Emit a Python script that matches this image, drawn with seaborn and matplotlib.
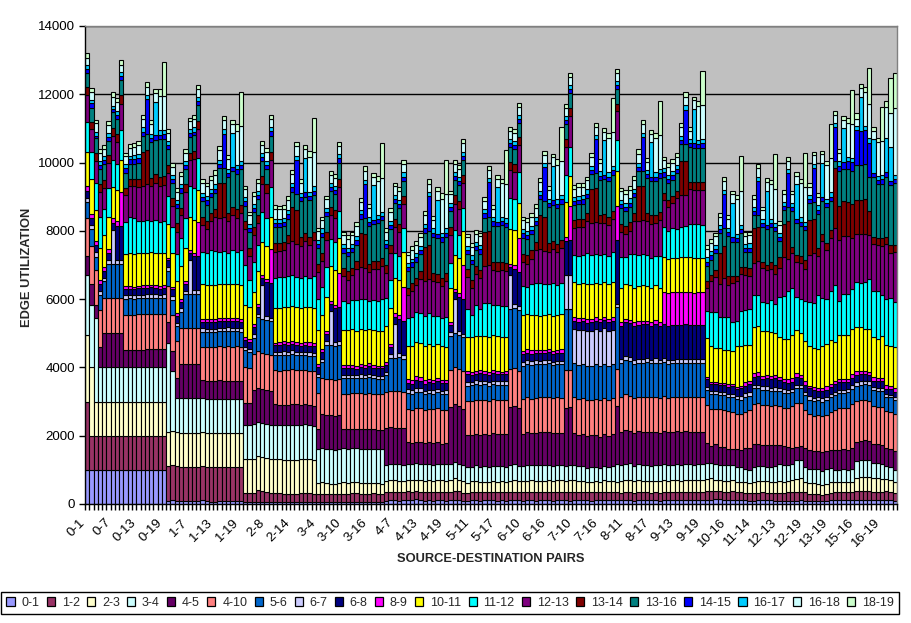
## stacked edge utilization per source-destination pair
import numpy as np
import seaborn as sns
import matplotlib.pyplot as plt
from matplotlib.patches import Patch
from matplotlib.transforms import ScaledTranslation

nodes = 20
pairs = [str(a) + '-' + str(b) for a in range(nodes) for b in range(a + 1, nodes)]

edges = ['0-1', '1-2', '2-3', '3-4', '4-5', '4-10', '5-6', '6-7', '6-8', '8-9', '10-11',
         '11-12', '12-13', '13-14', '13-16', '14-15', '16-17', '16-18', '18-19']
colors = ['#9999FF', '#993366', '#FFFFCC', '#CCFFFF', '#660066', '#FF8080', '#0066CC', '#CCCCFF', '#000080', '#FF00FF', '#FFFF00',
          '#00FFFF', '#800080', '#800000', '#008080', '#0000FF', '#00CCFF', '#CCFFFF', '#CCFFCC']
yticks = [0, 2000, 4000, 6000, 8000, 10000, 12000, 14000]

# one line per source node
e_0_1 = [1000,1000,1000,1000,1000,1000,1000,1000,1000,1000,1000,1000,1000,1000,1000,1000,1000,1000,1000,
 100,130,100,90,90,90,90,90,110,80,70,70,80,80,80,80,80,80,
 50,50,50,70,70,70,70,70,70,60,70,70,60,50,70,50,60,
 60,60,70,60,60,70,60,60,70,70,60,60,70,70,60,70,
 100,110,110,100,110,110,120,140,120,100,120,100,110,110,100,
 110,130,110,90,100,110,110,100,110,110,120,100,110,100,
 120,120,110,100,120,120,100,110,120,120,100,110,120,
 110,100,120,110,120,110,100,110,120,120,110,110,
 120,110,110,110,90,110,110,110,110,110,100,
 120,110,110,120,110,120,120,110,120,120,
 120,120,140,140,110,120,130,130,120,
 110,100,100,110,120,120,110,100,
 80,80,100,100,100,110,100,
 90,100,90,80,90,110,
 110,110,110,110,110,
 120,120,120,120,
 110,120,110,
 130,110,
 100]
e_1_2 = [2000,1000,1000,1000,1000,1000,1000,1000,1000,1000,1000,1000,1000,1000,1000,1000,1000,1000,1000,
 1000,1000,1000,1000,1000,1000,1000,1000,1000,1000,1000,1000,1000,1000,1000,1000,1000,1000,
 260,260,280,340,300,280,250,250,250,240,230,230,240,260,260,260,230,
 230,240,230,220,220,230,240,240,240,240,240,230,230,240,230,230,
 240,240,240,260,230,260,240,230,240,250,240,240,250,250,250,
 240,260,260,240,220,240,240,240,230,240,230,240,240,240,
 240,240,240,260,240,240,240,250,240,240,250,250,240,
 230,240,240,230,230,230,240,240,220,240,230,240,
 230,220,230,230,230,230,230,230,220,230,230,
 240,230,240,240,240,240,230,240,230,240,
 260,260,240,230,250,240,240,230,220,
 210,210,230,220,220,210,200,230,
 240,250,250,240,240,240,240,
 200,190,190,190,190,200,
 240,230,240,230,230,
 250,250,260,260,
 240,240,250,
 240,250,
 220]
e_2_3 = [1950,2000,1000,1000,1000,1000,1000,1000,1000,1000,1000,1000,1000,1000,1000,1000,1000,1000,1000,
 1000,1000,1000,1000,1000,1000,1000,1000,1000,1000,1000,1000,1000,1000,1000,1000,1000,1000,
 1000,1000,1000,1000,1000,1000,1000,1000,1000,1000,1000,1000,1000,1000,1000,1000,1000,
 320,330,310,320,310,320,330,320,340,320,320,320,320,310,320,300,
 330,340,340,320,320,330,330,340,340,330,330,340,330,330,330,
 340,370,340,330,290,310,320,300,300,300,310,300,310,300,
 320,330,320,300,320,330,320,320,320,330,330,340,330,
 320,350,340,320,320,310,310,310,310,330,320,320,
 300,340,370,370,350,370,340,340,340,340,330,
 340,340,340,340,330,340,340,340,340,350,
 350,370,320,340,300,300,330,290,290,
 320,300,320,350,320,330,340,320,
 340,320,330,360,380,410,310,
 320,320,320,300,320,320,
 300,300,300,300,310,
 400,410,420,410,
 400,390,370,
 360,350,
 310]
e_3_4 = [1750,1830,2440,1000,1000,1000,1000,1000,1000,1000,1000,1000,1000,1000,1000,1000,1000,1000,1000,
 2630,1760,1000,1000,1000,1000,1000,1000,1000,1000,1000,1000,1000,1000,1000,1000,1000,1000,
 1000,1000,1000,1000,1000,1000,1000,1000,1000,1000,1000,1000,1000,1000,1000,1000,1000,
 1000,1000,1000,1000,1000,1000,1000,1000,1000,1000,1000,1000,1000,1000,1000,1000,
 480,490,470,480,470,480,470,490,480,480,480,470,480,470,480,
 470,480,470,480,480,430,460,440,470,440,450,460,450,450,
 450,470,440,450,460,450,470,450,460,450,440,440,440,
 460,440,440,440,450,410,430,430,400,430,420,440,
 510,470,470,480,450,470,460,470,450,450,470,
 470,470,460,460,470,470,470,460,470,460,
 460,450,470,430,480,470,440,440,450,
 390,400,440,440,440,430,430,460,
 510,480,450,460,560,530,440,
 420,410,420,400,420,420,
 360,370,370,370,380,
 500,500,490,490,
 440,440,440,
 380,380,
 370]
e_4_5 = [560,620,400,600,1000,1000,1000,1000,1000,520,510,500,520,520,530,530,530,540,540,
 590,590,600,1000,1000,1000,1000,1000,520,520,530,530,550,530,530,530,530,530,
 640,640,1000,1000,1000,1000,1000,600,590,600,610,620,620,600,590,600,590,
 580,1000,1000,1000,1000,1000,560,570,560,570,580,580,590,570,570,580,
 1070,1070,1080,1080,1090,630,620,620,640,620,640,640,640,610,640,
 1680,1680,1680,1650,920,940,930,950,950,930,960,950,930,950,
 1700,1700,1690,950,960,940,950,970,960,960,950,950,960,
 1700,1700,930,920,930,940,930,930,920,930,910,930,
 1700,960,990,960,970,960,960,970,980,990,960,
 960,950,960,970,970,960,960,960,960,950,
 590,510,590,520,540,470,480,510,510,
 600,620,660,650,640,650,640,620,
 550,560,540,490,400,420,540,
 540,530,530,540,530,530,
 560,570,580,580,620,
 560,560,570,570,
 570,560,560,
 520,520,
 540]
e_4_10 = [1120,1110,1000,1090,1040,1040,1030,1040,1040,1030,1040,1040,1040,1050,1040,1040,1040,1030,1030,
 1070,1060,1060,1060,1060,1060,1060,1060,980,990,1000,1000,1000,1000,1010,1000,1010,1000,
 1050,1030,1070,1060,1050,1050,1040,1000,1000,1020,1020,1030,1010,1010,1000,1000,1010,
 1070,1050,1050,1050,1050,1050,1040,1040,1050,1050,1050,1030,1040,1040,1040,1040,
 1060,1060,1060,1070,1050,970,980,990,980,970,980,980,990,970,960,
 1090,1080,1100,1100,1010,1000,990,1010,1000,1000,1000,1000,1010,1000,
 1120,1120,1110,1020,1020,1000,1030,1020,1020,1040,1030,1030,1020,
 1100,1100,1050,1050,1040,1050,1030,1060,1070,1060,1050,1050,
 1100,1030,1040,1020,1000,1000,1030,1020,1020,1020,1020,
 1030,1010,1010,1010,1010,1010,1010,1020,1010,1010,
 1120,1070,1020,1130,1080,1130,1080,1050,1050,
 1070,1120,1190,1180,1170,1170,1160,1160,
 1150,1130,1150,1210,1290,1240,1110,
 1060,1040,1060,1070,1070,1120,
 1180,1220,1210,1230,1280,
 1190,1200,1180,1170,
 1110,1100,1110,
 1090,1090,
 1090]
e_5_6 = [470,480,400,440,480,1000,1000,1000,1000,460,470,470,470,460,470,470,470,460,470,
 440,440,440,470,1000,1000,1000,1000,440,440,430,440,430,450,450,450,440,440,
 500,470,470,1000,1000,1000,1000,430,440,440,430,450,430,430,440,430,440,
 450,480,1000,1000,1000,1000,450,450,440,440,450,460,460,450,440,440,
 490,980,980,990,990,460,460,470,470,460,460,450,470,470,460,
 1000,1000,1000,1000,440,460,460,450,450,440,440,450,450,450,
 1760,1770,1770,970,980,990,980,980,990,980,960,970,980,
 1790,1790,1000,1000,1000,1000,1010,1010,1000,1000,1010,1000,
 1800,1000,1000,1010,1010,1000,1010,1020,1000,1000,1010,
 1000,1000,1000,1000,1000,990,1000,1000,1000,1000,
 440,430,430,400,420,400,420,430,420,
 430,420,450,440,440,430,430,430,
 440,440,430,430,430,440,440,
 420,420,430,420,420,430,
 440,450,450,450,450,
 450,450,470,470,
 470,460,460,
 420,420,
 430]
e_6_7 = [120,120,130,100,100,100,1000,110,110,100,100,100,100,100,100,110,100,90,100,
 110,110,110,110,100,1000,110,110,110,100,100,100,100,100,110,100,100,100,
 100,100,100,100,1000,100,100,100,100,110,100,100,100,90,100,100,100,
 100,100,110,1000,100,100,100,110,90,80,100,100,110,100,100,100,
 100,100,1000,110,100,120,110,120,120,100,100,110,110,100,110,
 100,1000,110,100,120,90,120,120,90,110,100,110,90,110,
 1000,120,110,120,110,110,120,100,100,110,100,100,110,
 1000,1000,1000,1020,1000,1010,1030,1040,1040,1040,1030,1020,
 100,110,130,120,130,120,120,110,110,130,110,
 110,120,110,110,120,130,120,120,120,120,
 90,100,100,100,100,90,110,90,110,
 110,100,100,100,100,110,100,110,
 100,100,100,90,100,100,100,
 100,100,90,100,90,90,
 90,100,90,90,100,
 100,100,100,100,
 90,90,100,
 70,70,
 60]
e_6_8 = [210,210,210,200,200,200,210,1000,1000,200,190,190,190,210,190,200,190,190,200,
 200,200,190,200,200,200,1000,1000,180,190,190,190,190,190,180,190,190,190,
 200,200,200,200,200,1000,1000,200,200,210,210,180,190,200,200,200,200,
 200,200,200,200,1000,1000,200,190,200,190,210,190,210,200,210,210,
 210,200,200,1000,1000,190,190,220,210,200,210,200,210,220,200,
 200,200,1000,1000,220,200,190,220,200,200,220,200,210,210,
 220,1000,1000,220,220,220,210,220,210,210,220,230,220,
 1000,1000,250,250,260,250,250,240,240,230,240,250,
 1870,980,980,990,990,980,1000,990,990,1000,980,
 1000,980,1000,990,1000,1000,1000,990,1000,1000,
 240,200,200,200,200,210,220,210,220,
 220,240,230,260,200,250,250,260,
 230,200,200,200,230,200,210,
 240,220,190,200,220,200,
 230,210,210,220,220,
 210,210,190,190,
 180,190,190,
 170,170,
 170]
e_8_9 = [140,130,120,130,130,130,130,130,1000,70,80,70,70,80,70,70,70,80,70,
 70,70,80,80,80,90,90,1000,90,100,90,90,90,90,90,100,90,90,
 90,80,90,90,90,90,1000,80,90,80,80,100,100,90,90,100,90,
 80,80,90,90,90,1000,90,80,90,80,90,90,90,90,80,80,
 90,110,100,120,1000,100,110,120,110,120,110,110,100,110,110,
 100,100,120,1000,90,80,90,100,100,90,90,90,80,90,
 110,130,1000,100,110,110,100,90,100,90,100,100,110,
 120,1000,110,100,110,110,100,110,100,110,100,110,
 1000,120,110,110,110,110,110,110,110,120,110,
 950,960,970,960,950,950,950,950,950,950,
 60,60,60,60,50,90,60,60,60,
 100,80,110,110,90,70,80,90,
 70,100,100,100,100,100,100,
 70,100,80,100,100,100,
 90,90,100,90,100,
 110,100,100,100,
 100,100,100,
 100,100,
 100]
e_10_11 = [1000,1025,900,950,930,930,920,920,930,940,950,960,950,940,950,950,960,950,950,
 1000,980,960,950,960,980,960,940,1000,990,1000,1000,1000,1000,1000,990,1000,990,
 950,950,960,970,970,960,940,1000,1000,1000,1020,1020,1030,1020,1030,1030,1010,
 1000,1010,1000,1020,1020,1010,1040,1050,1050,1040,1030,1040,1020,1030,1030,1020,
 1040,1040,1030,1020,1030,990,1000,1010,1000,1010,1010,1000,990,980,970,
 1000,1000,1010,1000,1000,1020,1020,1000,1020,1020,1020,1030,1000,1000,
 1020,1020,1020,1040,1030,1040,1020,1010,1030,1040,1030,1020,1030,
 1020,900,1020,1010,1010,1020,1000,1000,1010,1010,1020,1020,
 1020,1000,1000,1020,1010,1030,1040,1010,1000,1010,1010,
 1010,1000,1010,1000,1020,1020,1020,1010,1010,1010,
 1130,1050,990,1020,980,1000,980,1190,1190,
 1100,1080,1350,1350,1330,1290,1290,1220,
 1190,1170,1170,1270,1260,1230,1190,
 1170,1140,1150,1240,1240,1290,
 1150,1290,1280,1270,1320,
 1290,1290,1220,1240,
 1170,1140,1220,
 1170,1170,
 1200]
e_11_12 = [880,785,800,900,765,850,795,765,880,930,1070,1060,950,940,980,930,970,930,930,
 810,765,785,825,900,900,955,945,960,930,1035,990,950,960,900,990,955,1015,
 1150,780,880,750,880,825,880,900,900,900,910,910,875,870,900,845,940,
 900,820,890,790,810,795,825,770,845,890,885,890,820,870,875,940,
 810,810,755,725,690,795,860,880,880,880,900,880,840,815,880,
 735,725,680,665,830,670,900,780,960,1000,900,890,925,900,
 900,900,900,845,800,880,920,950,905,870,950,880,920,
 780,830,780,805,810,900,870,845,855,830,835,885,
 900,880,800,910,980,920,900,900,870,860,930,
 890,820,860,860,905,910,990,990,980,970,
 785,1000,1070,900,980,955,835,720,1000,
 1010,1040,940,910,860,825,955,850,
 1150,1270,1430,1370,960,970,1155,
 1300,1320,1560,1395,1320,1435,
 1660,1000,1200,1200,1165,
 1320,1270,1380,1465,
 1365,1400,1225,
 1360,1400,
 1320]
e_12_13 = [770,665,650,720,605,730,685,625,770,790,910,910,980,1000,1050,1020,1080,1050,1060,
 680,625,655,675,750,750,825,835,770,720,835,990,1000,1000,950,1040,995,1085,
 1070,710,790,660,800,745,800,760,760,770,950,980,955,950,1020,975,1070,
 800,740,790,710,710,715,745,690,745,920,915,930,840,900,915,960,
 760,800,755,695,700,685,760,770,1000,1000,1000,1000,980,955,1030,
 815,775,760,735,920,780,920,910,1080,1110,1000,1010,1055,1010,
 810,810,800,715,670,760,980,1000,955,950,1010,950,1010,
 830,910,790,845,830,940,930,925,935,910,905,975,
 850,750,680,670,960,1000,1000,1010,1010,960,1050,
 780,700,740,890,915,920,1010,1020,1020,1030,
 675,900,1030,980,1120,945,1135,1190,1090,
 1040,960,940,1010,970,955,895,890,
 850,1120,940,1020,1050,1060,955,
 1370,1470,1160,1655,1420,1555,
 1660,1800,1700,1700,1495,
 1400,1450,1420,1295,
 1365,1370,1420,
 1600,1310,
 1460]
e_13_14 = [235,225,220,240,250,240,250,240,240,225,210,220,260,1000,1000,240,260,270,270,
 240,230,240,220,220,220,240,240,240,240,230,240,1000,1000,230,240,240,240,
 240,240,220,230,240,240,240,240,240,240,240,1000,1000,240,240,240,240,
 240,240,240,240,240,240,230,240,200,230,1000,1000,240,240,250,240,
 230,240,240,230,230,220,220,230,230,1000,1000,240,240,240,250,
 240,240,240,240,230,240,230,240,1000,1000,250,250,240,240,
 240,240,230,230,240,240,240,1000,1000,240,240,240,240,
 230,230,240,240,240,240,1000,1000,240,240,240,240,
 220,240,240,250,240,1000,1000,240,240,240,240,
 200,220,210,230,1000,1000,220,230,220,220,
 220,200,200,900,960,270,220,130,200,
 230,240,1020,980,200,150,220,250,
 330,980,1100,200,200,200,250,
 1020,1000,240,210,210,220,
 1780,1000,1020,1000,1000,
 1000,1000,1000,700,
 200,200,230,
 220,240,
 230]
e_13_16 = [430,410,440,440,450,420,450,460,450,440,440,450,470,470,470,1040,1000,1090,1080,
 450,450,440,440,460,450,470,460,460,470,470,470,450,450,1050,1030,1040,1050,
 440,450,440,450,450,460,470,470,470,470,490,460,470,1060,1060,1080,1080,
 460,470,450,460,470,460,450,450,460,470,420,460,1100,1100,1100,1100,
 480,470,450,470,450,470,480,470,490,430,430,1050,1050,1050,1060,
 450,440,450,450,460,460,460,470,430,430,1060,1060,1060,1070,
 440,430,420,480,480,470,480,450,450,1060,1060,1060,1060,
 440,440,440,450,440,450,430,430,1040,1040,1040,1050,
 430,450,440,450,470,450,440,1010,1010,1010,1000,
 490,490,480,500,490,490,1010,1000,1000,1000,
 430,440,490,600,510,1150,1000,1000,1000,
 430,470,370,360,1000,1070,1000,1000,
 470,400,400,1050,930,900,880,
 490,490,980,980,1050,860,
 200,1020,950,980,980,
 1040,1020,1040,1000,
 1760,1560,1600,
 1760,1750,
 1790]
e_14_15 = [100,130,80,130,120,110,90,110,110,140,130,140,130,130,1000,120,130,130,130,
 130,120,120,130,120,120,110,110,120,130,120,130,120,1000,120,130,130,120,
 120,130,120,130,110,120,130,130,130,120,130,130,1000,130,130,120,120,
 130,130,120,130,120,130,130,130,120,130,130,1000,130,120,130,120,
 130,120,130,120,130,130,130,130,130,120,1000,130,120,130,120,
 130,120,130,120,120,130,120,130,130,1000,130,130,120,120,
 110,120,120,130,120,130,120,130,1000,130,120,120,130,
 120,120,130,120,130,120,130,1000,120,130,120,130,
 120,130,120,130,120,130,1000,120,130,120,130,
 130,120,130,120,130,1000,120,130,120,130,
 130,130,120,100,1000,120,130,120,130,
 130,130,120,1000,130,120,130,120,
 130,120,1000,120,130,120,130,
 120,1000,130,120,130,120,
 1000,150,200,220,250,
 1000,1000,1000,1000,
 120,120,120,
 120,120,
 130]
e_16_17 = [110,100,100,100,110,110,110,120,120,100,90,100,130,130,120,130,980,130,130,
 110,110,120,120,110,110,120,120,120,120,120,120,120,120,120,1000,130,130,
 120,110,120,110,120,120,110,120,120,120,130,120,120,120,1000,120,120,
 120,120,120,110,120,120,120,120,120,130,120,120,130,1000,120,130,
 110,120,120,120,120,110,110,120,120,130,120,130,1000,120,120,
 120,120,110,120,120,120,120,120,120,120,130,1000,120,130,
 120,120,110,120,120,120,130,120,120,120,1000,130,120,
 110,110,120,120,120,130,120,120,120,1000,130,130,
 110,120,120,130,120,120,120,120,1000,130,120,
 120,120,120,130,120,130,120,1000,120,130,
 120,120,120,120,120,130,1000,130,120,
 120,120,120,120,130,1000,130,130,
 120,130,120,120,1000,130,120,
 120,120,130,1000,120,130,
 120,130,1000,120,120,
 130,1000,120,130,
 1000,120,130,
 1000,1000,
 120]
e_16_18 = [215,240,260,250,230,240,260,240,220,240,250,250,260,250,240,270,270,1000,1000,
 240,230,250,250,240,240,240,250,290,280,280,290,280,280,290,270,1000,1000,
 240,250,240,250,240,240,250,280,270,270,280,270,280,280,270,1000,1000,
 250,240,250,240,240,250,260,260,250,280,250,260,270,260,1000,1000,
 240,250,240,260,240,250,260,250,270,260,250,260,260,1000,1000,
 250,240,250,240,240,250,240,260,240,250,240,260,1000,1000,
 250,240,240,260,260,250,270,250,250,260,260,1000,1000,
 250,240,240,250,240,260,240,250,250,240,1000,1000,
 240,250,260,250,270,260,270,250,260,1000,1000,
 230,230,240,240,250,250,240,250,1000,1000,
 260,240,250,250,260,250,260,1000,1000,
 240,240,240,250,240,250,1000,1000,
 230,230,240,240,240,1000,1000,
 240,240,240,240,1000,1000,
 230,240,240,1000,1000,
 220,260,1000,1000,
 240,1000,1000,
 930,1000,
 1970]
e_18_19 = [150,100,100,100,100,110,130,120,140,100,110,110,110,120,140,120,100,210,1000,
 100,110,100,100,100,110,120,110,120,110,110,130,120,120,110,100,200,1000,
 100,110,110,100,110,120,110,120,110,120,110,120,130,110,100,200,1000,
 100,110,110,120,110,120,110,110,110,120,120,140,110,100,140,1000,
 110,110,110,110,120,90,100,110,120,130,130,100,110,170,1000,
 110,120,110,120,100,110,110,110,120,120,120,110,120,1000,
 100,110,110,110,110,110,110,120,120,120,100,180,1000,
 110,120,100,110,110,110,120,120,110,110,150,1000,
 120,100,110,110,120,130,110,110,110,140,1000,
 100,110,110,120,120,130,110,110,140,1000,
 110,110,110,110,120,110,100,130,1000,
 100,110,120,120,110,110,130,1000,
 110,110,120,110,110,120,1000,
 110,110,110,110,120,1000,
 120,130,120,140,1000,
 150,110,130,1050,
 100,110,1000,
 150,1020,
 1000]

series = [e_0_1, e_1_2, e_2_3, e_3_4, e_4_5, e_4_10, e_5_6, e_6_7, e_6_8, e_8_9, e_10_11,
          e_11_12, e_12_13, e_13_14, e_13_16, e_14_15, e_16_17, e_16_18, e_18_19]

sns.set_theme(style='white')
plt.rcParams['font.family'] = ['Liberation Sans', 'DejaVu Sans']

fig = plt.figure(figsize=(9.11, 6.23), dpi=100)
ax = fig.add_axes([85 / 911, 1 - 504 / 623, 812 / 911, 478 / 623])
ax.set_facecolor('#C0C0C0')

bottom = np.zeros(len(pairs))
for vals, c in zip(series, colors):
    sns.barplot(x=pairs, y=vals, order=pairs, color=c, saturation=1, width=1,
                bottom=bottom, edgecolor='black', linewidth=0.8, errorbar=None, ax=ax)
    bottom = bottom + np.array(vals)

ax.set_xlim(-0.5, len(pairs) - 0.5)
ax.set_ylim(0, 14000)
ax.set_yticks(yticks)
ax.set_yticklabels([str(t) for t in yticks], fontsize=9.6, color='black')
ax.yaxis.grid(True, color='black', linewidth=1)
ax.xaxis.grid(False)
ax.set_axisbelow(True)
ax.tick_params(axis='y', direction='out', length=4, width=1, color='black', left=True, pad=3)

# labels every 6th pair, tick marks on every bar edge
ax.set_xticks(range(0, len(pairs), 6))
ax.set_xticklabels(pairs[::6], rotation=45, ha='right', rotation_mode='anchor', fontsize=9.6, color='black')
ax.tick_params(axis='x', which='major', length=0, pad=9)
shift = ScaledTranslation(-6 / 72, 0, fig.dpi_scale_trans)
for lab in ax.get_xticklabels():
    lab.set_transform(lab.get_transform() + shift)
ax.set_xticks(np.arange(len(pairs) + 1) - 0.5, minor=True)
ax.tick_params(axis='x', which='minor', direction='out', length=4, width=1, color='black', bottom=True)

for side in ['left', 'bottom']:
    ax.spines[side].set_color('black')
    ax.spines[side].set_linewidth(1)
for side in ['top', 'right']:
    ax.spines[side].set_color('#808080')
    ax.spines[side].set_linewidth(1)

fig.text(491 / 911, 1 - 559 / 623, 'SOURCE-DESTINATION PAIRS', ha='center', va='center', fontsize=9.3, fontweight='bold')
fig.text(27 / 911, 1 - 267 / 623, 'EDGE UTILIZATION', ha='center', va='center', rotation=90, fontsize=9.3, fontweight='bold')

handles = [Patch(facecolor=c, edgecolor='black', linewidth=0.9) for c in colors]
leg = fig.legend(handles, edges, loc='center', bbox_to_anchor=(450 / 911, 1 - 603 / 623), ncol=len(edges),
                 fontsize=9, frameon=True, fancybox=False, edgecolor='black', framealpha=1,
                 handlelength=0.65, handleheight=0.65, handletextpad=0.55, columnspacing=0.58, borderpad=0.4, borderaxespad=0)
leg.get_frame().set_linewidth(1)

plt.savefig('out.png', dpi=100)
